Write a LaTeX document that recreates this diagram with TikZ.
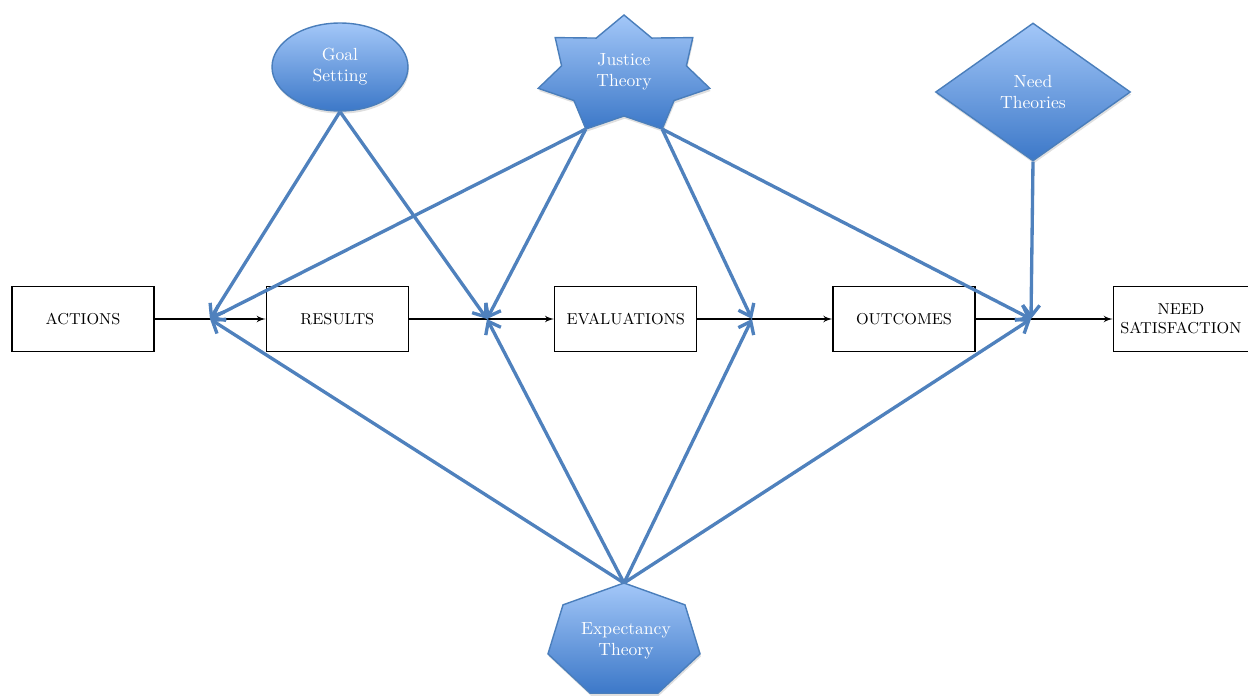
\documentclass[tikz,border=0pt]{standalone}
\usepackage{tikz}
\usetikzlibrary{arrows,arrows.meta,positioning,shapes.geometric,shadows}
\definecolor{shapeblue}{HTML}{4A7EBB}
\definecolor{arrowblue}{HTML}{4F81BD}
\definecolor{lightblue}{HTML}{A3C7F8}
\definecolor{darkblue}{HTML}{3C78C8}

\begin{document}
\begin{tikzpicture}[x=0.02cm,y=0.02cm]
    \tikzset{
      rectnode/.style={rectangle,draw=black,thick,minimum width=2.84cm,minimum height=1.3cm,align=center,font=\small},
      blueshape/.style={draw=shapeblue,thick,top color=lightblue,bottom color=darkblue,drop shadow={opacity=0.25,shadow xshift=0.5pt,shadow yshift=-1.5pt}},
      shapetext/.style={text=white,align=center,font=\normalsize},
      flowarrow/.style={->,>=latex',thick},
      bluearrow/.style={-{Straight Barb[length=0.22cm,width=0.34cm]},draw=arrowblue,line width=1.9pt}
    }
    \useasboundingbox (0,0) rectangle (1248,-696);

    % main chain
    \node[rectnode](actions) at (83,-319){ACTIONS};
    \node[rectnode,right=2.22cm of actions](results){RESULTS};
    \node[rectnode,right=2.9cm of results](evaluations){EVALUATIONS};
    \node[rectnode,right=2.7cm of evaluations](outcomes){OUTCOMES};
    \node[rectnode,right=2.74cm of outcomes,minimum width=2.7cm](needsat){NEED\\SATISFACTION};

    \coordinate (j1) at (210,-319);
    \coordinate (j2) at (487,-319);
    \coordinate (j3) at (752,-319);
    \coordinate (j4) at (1031,-319);

    % theories
    \node[ellipse,blueshape,shapetext,minimum width=2.72cm,minimum height=1.76cm](goal) at (340,-67){Goal\\Setting};
    \node[diamond,blueshape,shapetext,minimum width=3.9cm,minimum height=2.76cm](needtheory) at (1033,-92){Need\\Theories};
    \draw[blueshape] (624,-15) \foreach \a in {0,...,6} {-- ({624+64*cos(90+\a*360/7+180/7)},{-75+41*sin(90+\a*360/7+180/7)}) -- ({624+88*cos(90+(\a+1)*360/7)},{-75+60*sin(90+(\a+1)*360/7)})} -- cycle;
    \node[shapetext](justice) at (624,-72){Justice\\Theory};
    \coordinate (justiceleft) at ({624+88*cos(90+3*360/7)},{-75+60*sin(90+3*360/7)});
    \coordinate (justiceright) at ({624+88*cos(90+4*360/7)},{-75+60*sin(90+4*360/7)});
    \draw[blueshape] (624,-583) \foreach \a in {1,...,6} {-- ({624+78*cos(90+\a*360/7)},{-641+58*sin(90+\a*360/7)})} -- cycle;
    \node[shapetext](expectancy) at (626,-641){Expectancy\\Theory};
    \coordinate (expectancytop) at (624,-583);

    \draw[flowarrow](actions.east) -- (results.west);
    \draw[flowarrow](results.east) -- (evaluations.west);
    \draw[flowarrow](evaluations.east) -- (outcomes.west);
    \draw[flowarrow](outcomes.east) -- (needsat.west);

    \draw[bluearrow](goal.south) -- (j1);
    \draw[bluearrow](goal.south) -- (j2);
    \draw[bluearrow](justiceleft) -- (j1);
    \draw[bluearrow](justiceleft) -- (j2);
    \draw[bluearrow](justiceright) -- (j3);
    \draw[bluearrow](justiceright) -- (j4);
    \draw[bluearrow](needtheory.south) -- (j4);
    \draw[bluearrow](expectancytop) -- (j1);
    \draw[bluearrow](expectancytop) -- (j2);
    \draw[bluearrow](expectancytop) -- (j3);
    \draw[bluearrow](expectancytop) -- (j4);

\end{tikzpicture}
\end{document}
